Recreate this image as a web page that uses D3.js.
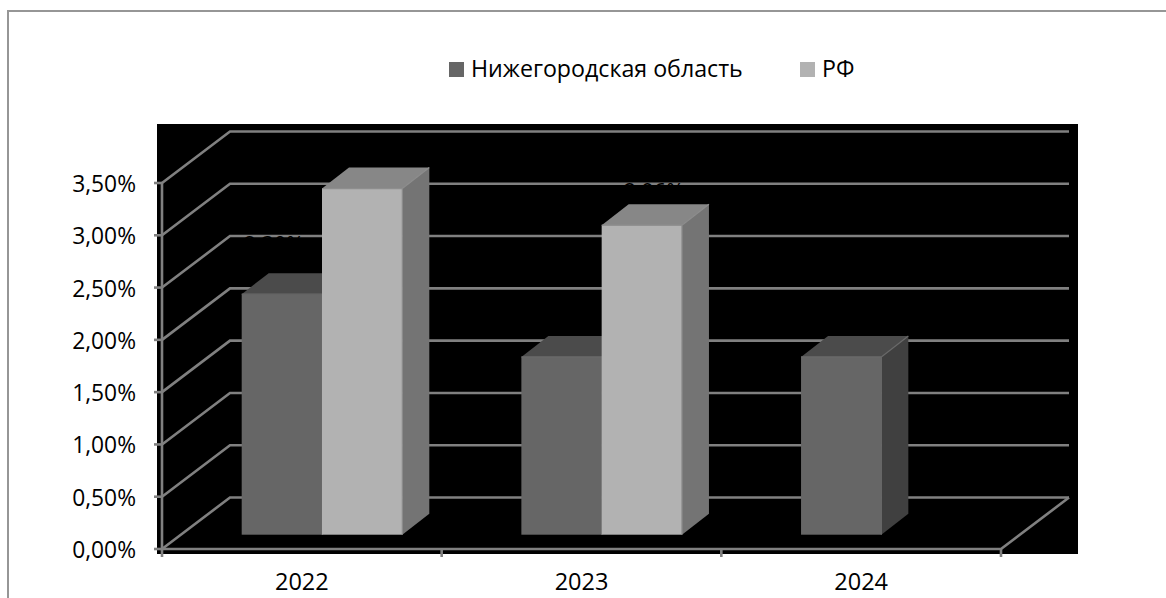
<!DOCTYPE html>
<html><head><meta charset="utf-8">
<script src="https://cdn.jsdelivr.net/npm/d3@7"></script>
<style>html,body{margin:0;padding:0;background:#fff}svg{display:block}text{font-family:"Open Sans",sans-serif;fill:#000}</style>
</head><body><svg id="c" width="1166" height="598"></svg>
<script>
const categories = ["2022","2023","2024"];
const seriesNames = ["Нижегородская область","РФ"];
const nizhny = [2.30,1.70,1.70];
const rf = [3.31,2.96,null];
const yTicks = [0,0.5,1,1.5,2,2.5,3,3.5];

const svg = d3.select("#c");
const fmt = v => v.toFixed(2).replace(".",",")+"%";
svg.append("path").attr("d","M8,598V11H1166").attr("fill","none").attr("stroke","#969696").attr("stroke-width",2);
svg.append("rect").attr("x",157).attr("y",124).attr("width",921).attr("height",430).attr("fill","#000");

const y = d3.scaleLinear().domain([0,3.5]).range([549,183]);
const x0 = d3.scaleBand().domain(categories).range([162,1001]);
const DX=68, DY=51.5;
const grid="#808080", gw=2.6;
const g = svg.append("g");
yTicks.forEach(t=>{
  g.append("path").attr("d",`M${x0.range()[0]},${y(t)}L${x0.range()[0]+DX},${y(t)-DY}H${x0.range()[1]+DX}`)
   .attr("fill","none").attr("stroke",grid).attr("stroke-width",gw);
});
g.append("path").attr("d",`M162,${y(3.5)}V${y(0)}H1001L${1001+DX},${y(0)-DY}`).attr("fill","none").attr("stroke",grid).attr("stroke-width",gw);
yTicks.forEach(t=>g.append("line").attr("x1",154).attr("x2",162).attr("y1",y(t)).attr("y2",y(t)).attr("stroke",grid).attr("stroke-width",gw));
[...categories.map(c=>x0(c)),1001].forEach(v=>g.append("line").attr("x1",v).attr("x2",v).attr("y1",549).attr("y2",557).attr("stroke",grid).attr("stroke-width",gw));

yTicks.forEach(t=>svg.append("text").attr("x",136).attr("y",y(t)+9).attr("text-anchor","end").attr("font-size",22.8).text(fmt(t)));
categories.forEach(c=>svg.append("text").attr("x",x0(c)+x0.bandwidth()/2).attr("y",590).attr("text-anchor","middle").attr("font-size",23.5).text(c));

const barW=80.3, bdx=27, bdy=21, base=534.7, inset=79.7;
const h = d3.scaleLinear().domain([0,3.5]).range([0,y(0)-y(3.5)]);
const styles=[{front:"#666666",top:"#4b4b4b",side:"#404040",edge:"#6a6a6a"},{front:"#b2b2b2",top:"#878787",side:"#747474",edge:"#8e8e8e"}];
const rows=[nizhny,rf];
function bar(x,top,s){
  const r=x+barW;
  const G=svg.append("g");
  G.append("path").attr("d",`M${r},${top}L${r+bdx},${top-bdy}V${base-bdy}L${r},${base}Z`).attr("fill",s.side);
  G.append("path").attr("d",`M${x},${top}L${x+bdx},${top-bdy}H${r+bdx}L${r},${top}Z`).attr("fill",s.top);
  G.append("rect").attr("x",x).attr("y",top).attr("width",barW).attr("height",base-top).attr("fill",s.front);
  G.append("path").attr("d",`M${x},${top}H${r}M${r},${top}V${base}M${r},${top}L${r+bdx},${top-bdy}`).attr("fill","none").attr("stroke",s.edge).attr("stroke-width",1.2);
}
categories.forEach((c,i)=>{
  rows.forEach((vals,k)=>{
    const v=vals[i]; if(v==null) return;
    bar(x0(c)+inset+k*barW, base-h(v), styles[k]);
  });
});
// data labels: black on black, visible only where they cross a gridline
const labelLift=[42,26], labelShift=[-8,12];
categories.forEach((c,i)=>{
  rows.forEach((vals,k)=>{
    const v=vals[i]; if(v==null) return;
    svg.append("text").attr("x",x0(c)+inset+k*barW+barW/2+labelShift[k]).attr("y",base-h(v)-labelLift[k])
      .attr("text-anchor","middle").attr("font-size",21.5).text(fmt(v));
  });
});
const lg=svg.append("g");
const lgX=[449,800];
seriesNames.forEach((n,k)=>{
  lg.append("rect").attr("x",lgX[k]).attr("y",62).attr("width",15).attr("height",15).attr("fill",styles[k].front);
  lg.append("text").attr("x",lgX[k]+22).attr("y",76.5).attr("font-size",23.2).text(n);
});
</script></body></html>
